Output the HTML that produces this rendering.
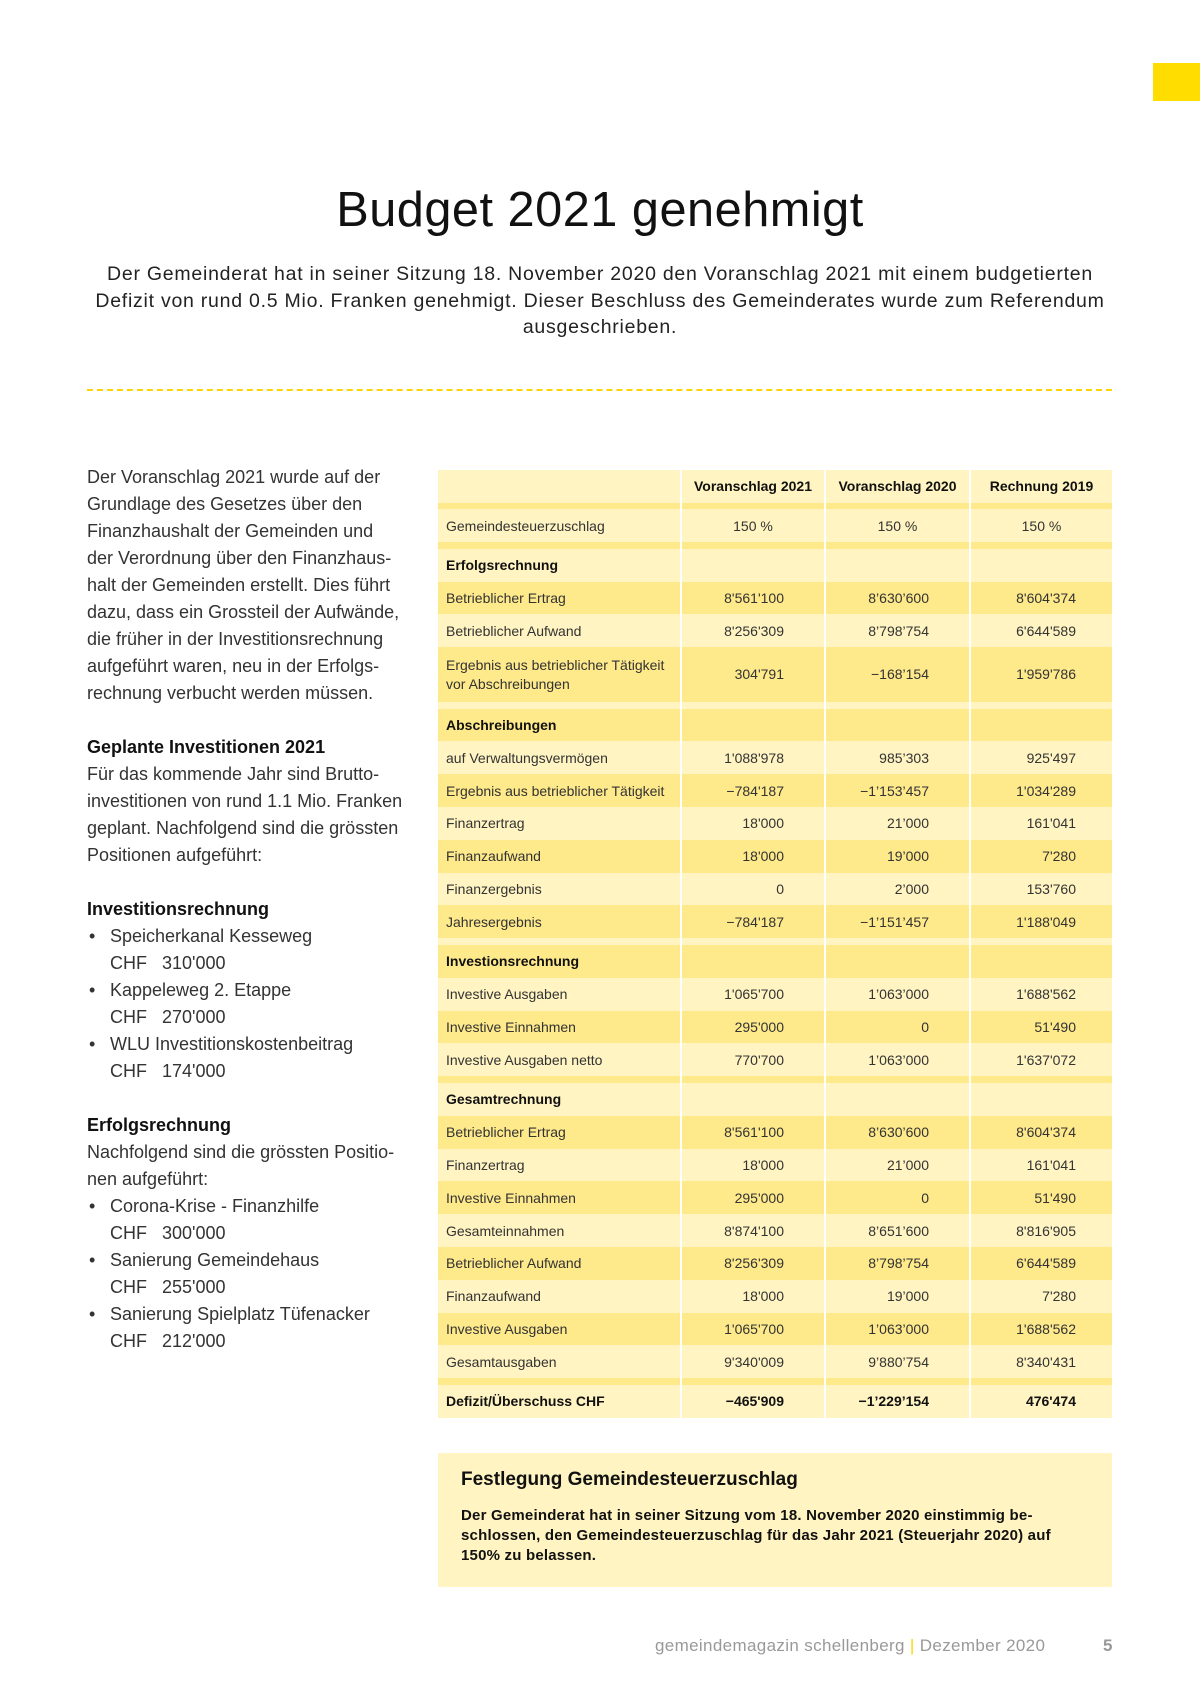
<!DOCTYPE html>
<html><head><meta charset="utf-8"><style>
*{margin:0;padding:0;box-sizing:border-box}
body{width:1200px;height:1697px;background:#fff;position:relative;font-family:"Liberation Sans",sans-serif;color:#222;overflow:hidden}
.tab{position:absolute;left:1153px;top:63px;width:47px;height:38px;background:#ffdd00}
h1{position:absolute;left:0;width:1200px;top:182px;text-align:center;font-size:48.7px;font-weight:normal;letter-spacing:0.5px;color:#111}
.intro{position:absolute;left:40px;width:1120px;top:261px;text-align:center;font-size:19.5px;line-height:26.5px;color:#222;letter-spacing:0.75px}
.dash{position:absolute;left:87px;width:1025px;top:389px;border-top:2px dashed #ffd400}
.left{position:absolute;left:87px;top:464px;width:330px;font-size:18px;line-height:27px;color:#333}
.left b{color:#111}
.li{padding-left:23px;position:relative}
.li:before{content:"•";position:absolute;left:2px}
.tbl{position:absolute;left:438px;top:470px;width:674px}
.r{display:flex;height:32.8px;font-size:14px;color:#333;font-family:"Liberation Sans Narrow","Liberation Sans",sans-serif}
.r>div{border-right:2px solid #fff;display:flex;align-items:center}
.r>div:last-child{border-right:none}
.c0{width:244px;padding-left:8px}
.c1{width:144px;justify-content:flex-end;padding-right:40px}
.c2{width:145px;justify-content:flex-end;padding-right:40px}
.c3{width:141px;justify-content:flex-end;padding-right:36px}
.L{background:#fff4c2}.D{background:#fee98b}
.band{height:6.8px}
.hd{height:32.5px;font-weight:bold;color:#111}
.hd .c1,.hd .c2,.hd .c3,.ctr .c1,.ctr .c2,.ctr .c3{justify-content:center;padding-right:0}
.b{font-weight:bold;color:#111}
.tall{height:54.5px;line-height:19px}
.box{position:absolute;left:438px;top:1453px;width:674px;height:134px;background:#fff4c2;padding:16px 23px}
.box h3{font-size:19px;color:#111;margin-bottom:15px}
.box p{font-size:15px;font-weight:bold;line-height:20px;color:#111;letter-spacing:0.2px}
.foot{position:absolute;top:1636px;left:655px;font-size:17px;color:#999;white-space:nowrap;letter-spacing:0.35px}
.foot span{color:#ffd400}
.pg{position:absolute;top:1636px;left:1103px;font-size:17px;font-weight:bold;color:#999}
</style></head><body>
<div class="tab"></div>
<h1>Budget 2021 genehmigt</h1>
<div class="intro">Der Gemeinderat hat in seiner Sitzung 18. November 2020 den Voranschlag 2021 mit einem budgetierten<br>Defizit von rund 0.5 Mio. Franken genehmigt. Dieser Beschluss des Gemeinderates wurde zum Referendum<br>ausgeschrieben.</div>
<div class="dash"></div>
<div class="left">
Der Voranschlag 2021 wurde auf der<br>Grundlage des Gesetzes über den<br>Finanzhaushalt der Gemeinden und<br>der Verordnung über den Finanzhaus-<br>halt der Gemeinden erstellt. Dies führt<br>dazu, dass ein Grossteil der Aufwände,<br>die früher in der Investitionsrechnung<br>aufgeführt waren, neu in der Erfolgs-<br>rechnung verbucht werden müssen.<br><br>
<b>Geplante Investitionen 2021</b><br>Für das kommende Jahr sind Brutto-<br>investitionen von rund 1.1 Mio. Franken<br>geplant. Nachfolgend sind die grössten<br>Positionen aufgeführt:<br><br>
<b>Investitionsrechnung</b>
<div class="li">Speicherkanal Kesseweg<br>CHF&nbsp;&nbsp; 310'000</div>
<div class="li">Kappeleweg 2. Etappe<br>CHF&nbsp;&nbsp; 270'000</div>
<div class="li">WLU Investitionskostenbeitrag<br>CHF&nbsp;&nbsp; 174'000</div><br>
<b>Erfolgsrechnung</b><br>Nachfolgend sind die grössten Positio-<br>nen aufgeführt:
<div class="li">Corona-Krise - Finanzhilfe<br>CHF&nbsp;&nbsp; 300'000</div>
<div class="li">Sanierung Gemeindehaus<br>CHF&nbsp;&nbsp; 255'000</div>
<div class="li">Sanierung Spielplatz Tüfenacker<br>CHF&nbsp;&nbsp; 212'000</div>
</div>

<div class="tbl">
<div class="r hd L"><div class="c0"></div><div class="c1">Voranschlag 2021</div><div class="c2">Voranschlag 2020</div><div class="c3">Rechnung 2019</div></div>
<div class="r band D"><div class="c0"></div><div class="c1"></div><div class="c2"></div><div class="c3"></div></div>
<div class="r ctr L"><div class="c0">Gemeindesteuerzuschlag</div><div class="c1">150 %</div><div class="c2">150 %</div><div class="c3">150 %</div></div>
<div class="r band D"><div class="c0"></div><div class="c1"></div><div class="c2"></div><div class="c3"></div></div>
<div class="r b L"><div class="c0">Erfolgsrechnung</div><div class="c1"></div><div class="c2"></div><div class="c3"></div></div>
<div class="r D"><div class="c0">Betrieblicher Ertrag</div><div class="c1">8'561'100</div><div class="c2">8’630’600</div><div class="c3">8'604'374</div></div>
<div class="r L"><div class="c0">Betrieblicher Aufwand</div><div class="c1">8'256'309</div><div class="c2">8’798’754</div><div class="c3">6'644'589</div></div>
<div class="r tall D"><div class="c0">Ergebnis aus betrieblicher Tätigkeit<br>vor Abschreibungen</div><div class="c1">304'791</div><div class="c2">−168’154</div><div class="c3">1'959'786</div></div>
<div class="r band L"><div class="c0"></div><div class="c1"></div><div class="c2"></div><div class="c3"></div></div>
<div class="r b D"><div class="c0">Abschreibungen</div><div class="c1"></div><div class="c2"></div><div class="c3"></div></div>
<div class="r L"><div class="c0">auf Verwaltungsvermögen</div><div class="c1">1'088'978</div><div class="c2">985’303</div><div class="c3">925'497</div></div>
<div class="r D"><div class="c0">Ergebnis aus betrieblicher Tätigkeit</div><div class="c1">−784'187</div><div class="c2">−1’153’457</div><div class="c3">1'034'289</div></div>
<div class="r L"><div class="c0">Finanzertrag</div><div class="c1">18'000</div><div class="c2">21’000</div><div class="c3">161'041</div></div>
<div class="r D"><div class="c0">Finanzaufwand</div><div class="c1">18'000</div><div class="c2">19’000</div><div class="c3">7'280</div></div>
<div class="r L"><div class="c0">Finanzergebnis</div><div class="c1">0</div><div class="c2">2’000</div><div class="c3">153'760</div></div>
<div class="r D"><div class="c0">Jahresergebnis</div><div class="c1">−784'187</div><div class="c2">−1’151’457</div><div class="c3">1'188'049</div></div>
<div class="r band L"><div class="c0"></div><div class="c1"></div><div class="c2"></div><div class="c3"></div></div>
<div class="r b D"><div class="c0">Investionsrechnung</div><div class="c1"></div><div class="c2"></div><div class="c3"></div></div>
<div class="r L"><div class="c0">Investive Ausgaben</div><div class="c1">1'065'700</div><div class="c2">1’063’000</div><div class="c3">1'688'562</div></div>
<div class="r D"><div class="c0">Investive Einnahmen</div><div class="c1">295'000</div><div class="c2">0</div><div class="c3">51'490</div></div>
<div class="r L"><div class="c0">Investive Ausgaben netto</div><div class="c1">770'700</div><div class="c2">1’063’000</div><div class="c3">1'637'072</div></div>
<div class="r band D"><div class="c0"></div><div class="c1"></div><div class="c2"></div><div class="c3"></div></div>
<div class="r b L"><div class="c0">Gesamtrechnung</div><div class="c1"></div><div class="c2"></div><div class="c3"></div></div>
<div class="r D"><div class="c0">Betrieblicher Ertrag</div><div class="c1">8'561'100</div><div class="c2">8’630’600</div><div class="c3">8'604'374</div></div>
<div class="r L"><div class="c0">Finanzertrag</div><div class="c1">18'000</div><div class="c2">21’000</div><div class="c3">161'041</div></div>
<div class="r D"><div class="c0">Investive Einnahmen</div><div class="c1">295'000</div><div class="c2">0</div><div class="c3">51'490</div></div>
<div class="r L"><div class="c0">Gesamteinnahmen</div><div class="c1">8'874'100</div><div class="c2">8’651’600</div><div class="c3">8'816'905</div></div>
<div class="r D"><div class="c0">Betrieblicher Aufwand</div><div class="c1">8'256'309</div><div class="c2">8’798’754</div><div class="c3">6'644'589</div></div>
<div class="r L"><div class="c0">Finanzaufwand</div><div class="c1">18'000</div><div class="c2">19’000</div><div class="c3">7'280</div></div>
<div class="r D"><div class="c0">Investive Ausgaben</div><div class="c1">1'065'700</div><div class="c2">1’063’000</div><div class="c3">1'688'562</div></div>
<div class="r L"><div class="c0">Gesamtausgaben</div><div class="c1">9'340'009</div><div class="c2">9’880’754</div><div class="c3">8'340'431</div></div>
<div class="r band D"><div class="c0"></div><div class="c1"></div><div class="c2"></div><div class="c3"></div></div>
<div class="r b L"><div class="c0">Defizit/Überschuss CHF</div><div class="c1">−465'909</div><div class="c2">−1’229’154</div><div class="c3">476'474</div></div>
</div>

<div class="box"><h3>Festlegung Gemeindesteuerzuschlag</h3>
<p>Der Gemeinderat hat in seiner Sitzung vom 18. November 2020 einstimmig be-<br>schlossen, den Gemeindesteuerzuschlag für das Jahr 2021 (Steuerjahr 2020) auf<br>150% zu belassen.</p></div>
<div class="foot">gemeindemagazin schellenberg <span>|</span> Dezember 2020</div>
<div class="pg">5</div>
</body></html>
